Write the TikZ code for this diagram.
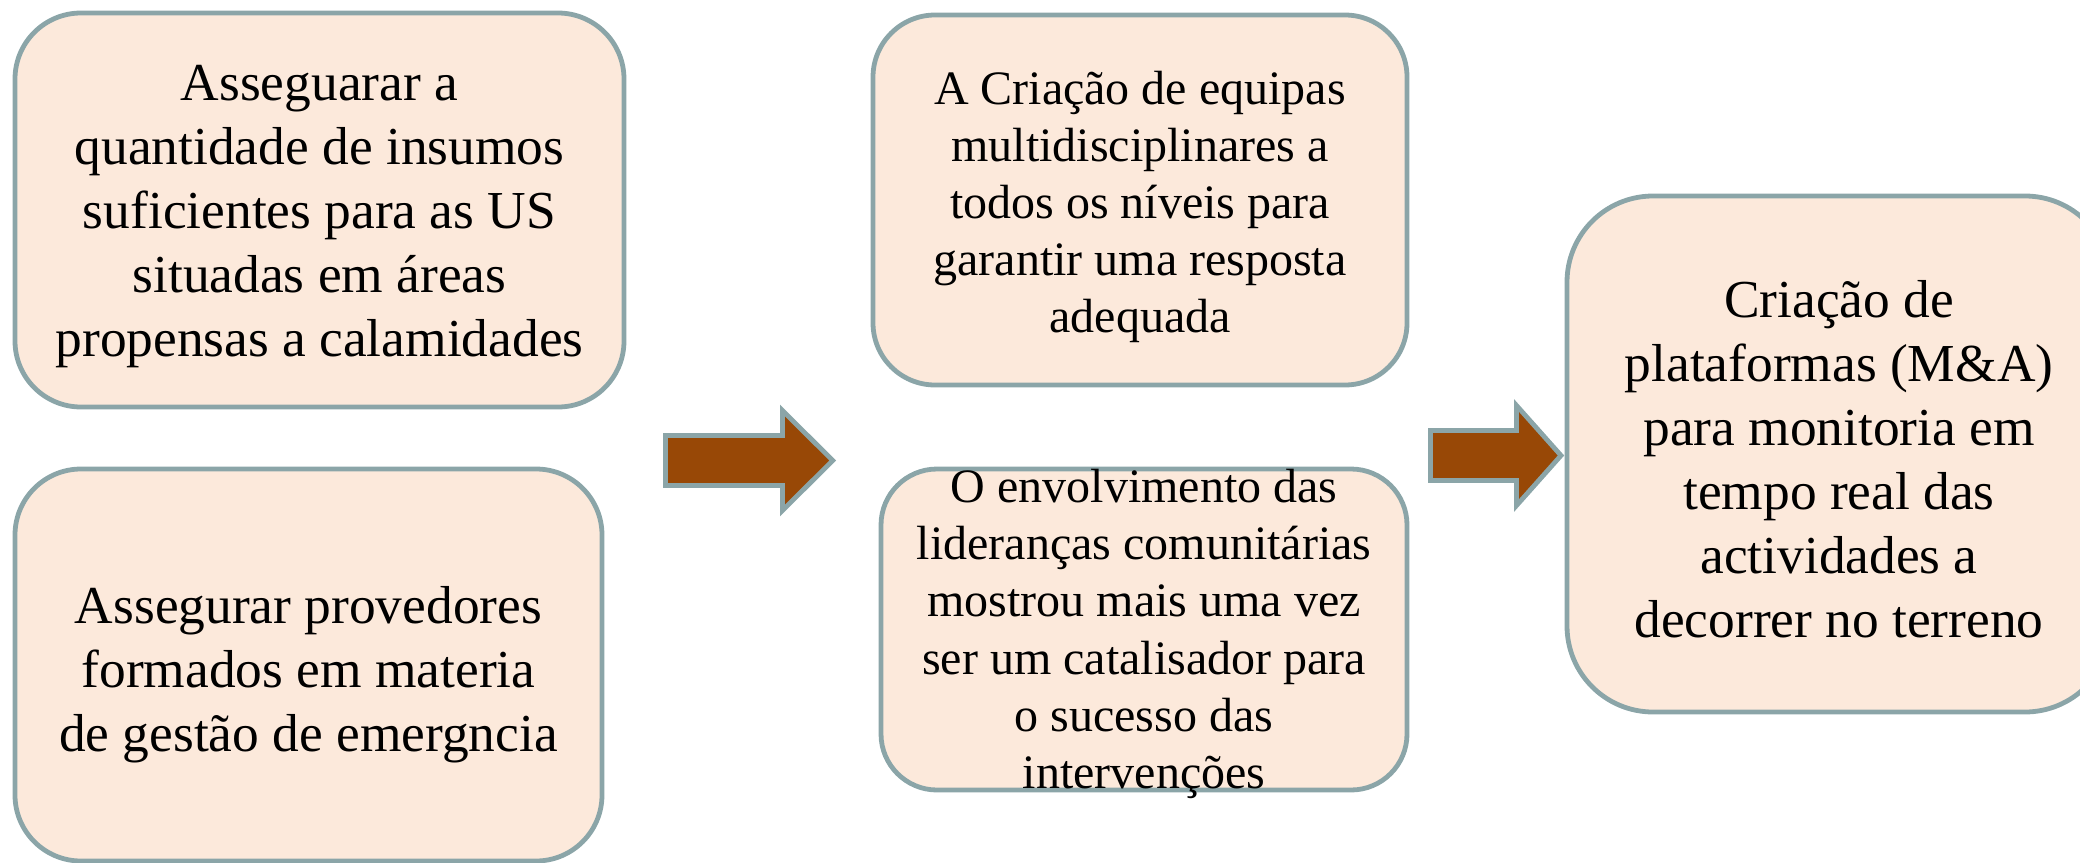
\documentclass[tikz,border=0pt]{standalone}
\usepackage{fontspec}
\setmainfont{Liberation Serif}
\definecolor{boxfill}{RGB}{252,233,219}
\definecolor{boxline}{RGB}{139,165,168}
\definecolor{arrowfill}{RGB}{152,72,6}
\begin{document}
\begin{tikzpicture}[x=0.5pt,y=-0.5pt,
  stage/.style={draw=boxline, fill=boxfill, line width=2.4pt, rectangle, inner sep=0pt, outer sep=0pt},
  bigtext/.style={align=center, inner sep=0pt, font=\fontsize{26.7}{32}\selectfont},
  smalltext/.style={align=center, inner sep=0pt, font=\fontsize{24}{28.6}\selectfont},
  blockarrow/.style={draw=boxline, fill=arrowfill, line width=2.4pt, line join=miter}]
\useasboundingbox (0,0) rectangle (2080,862);
\clip (0,0) rectangle (2080,862);
% boxes
\node[stage, rounded corners=33pt, minimum width=304.5pt, minimum height=197pt] (b1) at (319.5,210) {};
\node[stage, rounded corners=33pt, minimum width=293.5pt, minimum height=196pt] (b2) at (308.5,665) {};
\node[stage, rounded corners=31pt, minimum width=267pt, minimum height=185pt] (b3) at (1140,200) {};
\node[stage, rounded corners=28pt, minimum width=263pt, minimum height=160.5pt] (b4) at (1144,629.5) {};
\node[stage, rounded corners=43pt, minimum width=272pt, minimum height=258pt] (b5) at (1839,454) {};
% texts
\node[bigtext] (t1) at (319.5,217) {Asseguarar a\\quantidade de insumos\\suficientes para as US\\situadas em áreas\\propensas a calamidades};
\node[bigtext] (t2) at (308.5,675) {Assegurar provedores\\formados em materia\\de gestão de emergncia};
\node[smalltext] (t3) at (1140,207) {A Criação de equipas\\multidisciplinares a\\todos os níveis para\\garantir uma resposta\\adequada};
\node[smalltext] (t4) at (1144,634) {O envolvimento das\\lideranças comunitárias\\mostrou mais uma vez\\ser um catalisador para\\o sucesso das\\intervenções};
\node[bigtext] (t5) at (1839,459) {Criação de\\plataformas (M\&A)\\para monitoria em\\tempo real das\\actividades a\\decorrer no terreno};
% block arrows
\coordinate (a1tip) at (832.7,460.5);
\coordinate (a2tip) at (1561,455.5);
\draw[blockarrow] (665.5,435.5) -- (782.5,435.5) -- (782.5,410.5) -- (a1tip) -- (782.5,510.5) -- (782.5,485.5) -- (665.5,485.5) -- cycle;
\draw[blockarrow] (1430.5,430.5) -- (1516.5,430.5) -- (1516.5,405.5) -- (a2tip) -- (1516.5,505.5) -- (1516.5,480.5) -- (1430.5,480.5) -- cycle;
\end{tikzpicture}
\end{document}
